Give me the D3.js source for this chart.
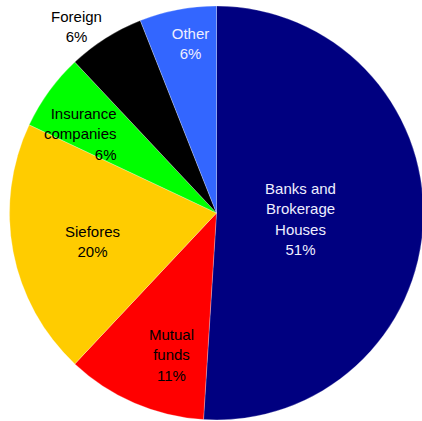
<!DOCTYPE html>
<html>
<head>
<meta charset="utf-8">
<script src="https://cdn.jsdelivr.net/npm/d3@7"></script>
<style>
  html, body { margin: 0; padding: 0; background: #ffffff; }
  svg { display: block; }
  text { font-family: "Liberation Sans", Arial, sans-serif; font-size: 15px; }
</style>
</head>
<body>
<div id="chart"></div>
<script>
// Holders by sector, share of total (%)
const categories = ["Banks and Brokerage Houses", "Mutual funds", "Siefores", "Insurance companies", "Foreign", "Other"];
const values = [51, 11, 20, 6, 6, 6];
const labelLines = [
  ["Banks and", "Brokerage", "Houses"],
  ["Mutual", "funds"],
  ["Siefores"],
  ["Insurance", "companies"],
  ["Foreign"],
  ["Other"]
];
const colors = ["#000080", "#FF0000", "#FFCC00", "#00FF00", "#000000", "#3366FF"];
const textColors = ["#EEEEFF", "#000000", "#000000", "#000000", "#000000", "#EEEEFF"];

// Label placement: offset from pie centre (px) and text anchor
const labelLayout = [
  { dx: 84, dy: -19.5, anchor: "middle" },
  { dx: -45, dy: 126.5, anchor: "middle" },
  { dx: -124, dy: 23.5, anchor: "middle" },
  { dx: -100, dy: -94.5, anchor: "end" },
  { dx: -140, dy: -191.5, anchor: "middle" },
  { dx: -26, dy: -174.5, anchor: "middle" }
];

const width = 422, height = 421;
const cx = 216.5, cy = 213, radius = 207;
const lineHeight = 20.5;

const data = categories.map((c, i) => ({ name: c, value: values[i], i }));

const svg = d3.select("#chart").append("svg")
  .attr("width", width).attr("height", height);

const g = svg.append("g").attr("transform", `translate(${cx},${cy})`);

const pie = d3.pie().sort(null).value(d => d.value);
const arc = d3.arc().innerRadius(0).outerRadius(radius);
const arcs = pie(data);

g.selectAll("path.slice")
  .data(arcs)
  .join("path")
  .attr("class", "slice")
  .attr("d", arc)
  .attr("fill", d => colors[d.data.i])
  .attr("stroke", "#ffffff")
  .attr("stroke-opacity", 0.5)
  .attr("stroke-width", 0.5);

const labels = g.selectAll("text.label")
  .data(arcs)
  .join("text")
  .attr("class", "label")
  .attr("text-anchor", d => labelLayout[d.data.i].anchor)
  .attr("fill", d => textColors[d.data.i]);

labels.each(function (d) {
  const L = labelLayout[d.data.i];
  const lines = labelLines[d.data.i].concat([d3.format(".0f")(d.data.value) + "%"]);
  const t = d3.select(this);
  lines.forEach((ln, k) => {
    t.append("tspan")
      .attr("x", L.dx)
      .attr("y", L.dy + k * lineHeight)
      .text(ln);
  });
});
</script>
</body>
</html>
